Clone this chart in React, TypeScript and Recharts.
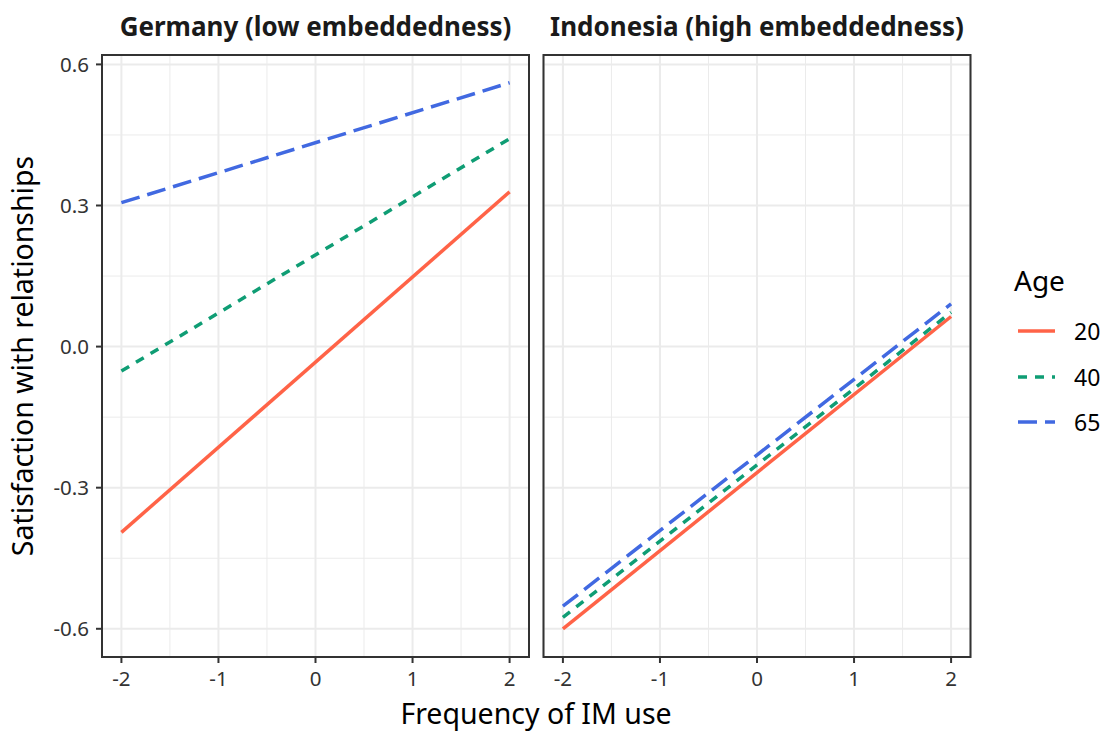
import React from 'react'
import { LineChart, Line, XAxis, YAxis, CartesianGrid, ReferenceArea } from 'recharts'

// values (lines are straight, so only the ends)
const xValues = [-2, 2]
const germanyAge20 = [-0.395, 0.329]
const germanyAge40 = [-0.052, 0.442]
const germanyAge65 = [0.306, 0.561]
const indonesiaAge20 = [-0.6, 0.064]
const indonesiaAge40 = [-0.576, 0.073]
const indonesiaAge65 = [-0.552, 0.091]

const ages = ['20', '40', '65']
const xTicks = [-2, -1, 0, 1, 2]
const yTicks = [-0.6, -0.3, 0, 0.3, 0.6]
const xMinor = [-1.5, -0.5, 0.5, 1.5]
const yMinor = [-0.45, -0.15, 0.15, 0.45]

const X_DOMAIN: [number, number] = [-2.2, 2.2]
const Y_DOMAIN: [number, number] = [-0.66, 0.62]
const FONT = '"Noto Sans", "Open Sans", sans-serif'

const seriesStyle: Record<string, { color: string; dash?: string }> = {
  '20': { color: '#FF6347' },
  '40': { color: '#0F9D74', dash: '9 8' },
  '65': { color: '#4169E1', dash: '19 8' },
}

const buildRows = (s20: number[], s40: number[], s65: number[]) =>
  xValues.map((x, i) => ({ x, a20: s20[i], a40: s40[i], a65: s65[i] }))

const germanyRows = buildRows(germanyAge20, germanyAge40, germanyAge65)
const indonesiaRows = buildRows(indonesiaAge20, indonesiaAge40, indonesiaAge65)

const tickStyle = { fontSize: 20.5, fill: '#333333', fontFamily: FONT }

function Panel({ rows, left, width, marginLeft, marginRight, showY }: {
  rows: any[]
  left: number
  width: number
  marginLeft: number
  marginRight: number
  showY: boolean
}) {
  return (
    <div style={{ position: 'absolute', left, top: 0 }}>
      <LineChart
        width={width}
        height={731}
        data={rows}
        margin={{ top: 55, right: marginRight, bottom: 44, left: marginLeft }}
      >
        <CartesianGrid
          stroke="#EBEBEB"
          strokeWidth={1}
          verticalValues={xMinor}
          horizontalValues={yMinor}
        />
        <CartesianGrid stroke="#EBEBEB" strokeWidth={2} />
        <XAxis
          dataKey="x"
          type="number"
          domain={X_DOMAIN}
          ticks={xTicks}
          allowDataOverflow
          height={30}
          axisLine={false}
          tickSize={6}
          tickMargin={8}
          tickLine={{ stroke: '#333333', strokeWidth: 2 }}
          tick={tickStyle}
        />
        <YAxis
          type="number"
          domain={Y_DOMAIN}
          ticks={yTicks}
          allowDataOverflow
          hide={!showY}
          width={102}
          axisLine={false}
          tickSize={6}
          tickMargin={7}
          tickLine={{ stroke: '#333333', strokeWidth: 2 }}
          tick={tickStyle}
          tickFormatter={(v: number) => v.toFixed(1)}
        />
        {ages.map((age) => (
          <Line
            key={age}
            dataKey={`a${age}`}
            stroke={seriesStyle[age].color}
            strokeDasharray={seriesStyle[age].dash}
            strokeWidth={3.5}
            dot={false}
            activeDot={false}
            isAnimationActive={false}
          />
        ))}
        <ReferenceArea
          x1={X_DOMAIN[0]}
          x2={X_DOMAIN[1]}
          y1={Y_DOMAIN[0]}
          y2={Y_DOMAIN[1]}
          fill="none"
          stroke="#333333"
          strokeWidth={2}
          ifOverflow="visible"
        />
      </LineChart>
    </div>
  )
}

export default function App() {
  const legendY = [331, 377, 422]
  return (
    <div
      style={{
        position: 'absolute',
        left: 0,
        top: 0,
        width: 1105,
        height: 731,
        background: '#fff',
        fontFamily: FONT,
        overflow: 'hidden',
      }}
    >
      <Panel rows={germanyRows} left={0} width={540} marginLeft={0} marginRight={11} showY />
      <Panel rows={indonesiaRows} left={530} width={450} marginLeft={13.5} marginRight={9.5} showY={false} />
      <svg
        width={1105}
        height={731}
        style={{ position: 'absolute', left: 0, top: 0, pointerEvents: 'none' }}
        fontFamily={FONT}
      >
        <text x={315.5} y={36} fontSize={26} fontWeight={700} fill="#1A1A1A" textAnchor="middle">
          Germany (low embeddedness)
        </text>
        <text x={757} y={36} fontSize={26} fontWeight={700} fill="#1A1A1A" textAnchor="middle">
          Indonesia (high embeddedness)
        </text>
        <text
          x={33}
          y={356}
          fontSize={28.5}
          fill="#000"
          textAnchor="middle"
          transform="rotate(-90 33 356)"
        >
          Satisfaction with relationships
        </text>
        <text x={536} y={724} fontSize={28.5} fill="#000" textAnchor="middle">
          Frequency of IM use
        </text>
        <text x={1014} y={291} fontSize={28} fill="#000">
          Age
        </text>
        {ages.map((age, i) => (
          <g key={age}>
            <line
              x1={1018}
              x2={1055}
              y1={legendY[i]}
              y2={legendY[i]}
              stroke={seriesStyle[age].color}
              strokeWidth={3.5}
              strokeDasharray={seriesStyle[age].dash}
            />
            <text x={1074} y={legendY[i] + 8.5} fontSize={23} fill="#000">
              {age}
            </text>
          </g>
        ))}
      </svg>
    </div>
  )
}
